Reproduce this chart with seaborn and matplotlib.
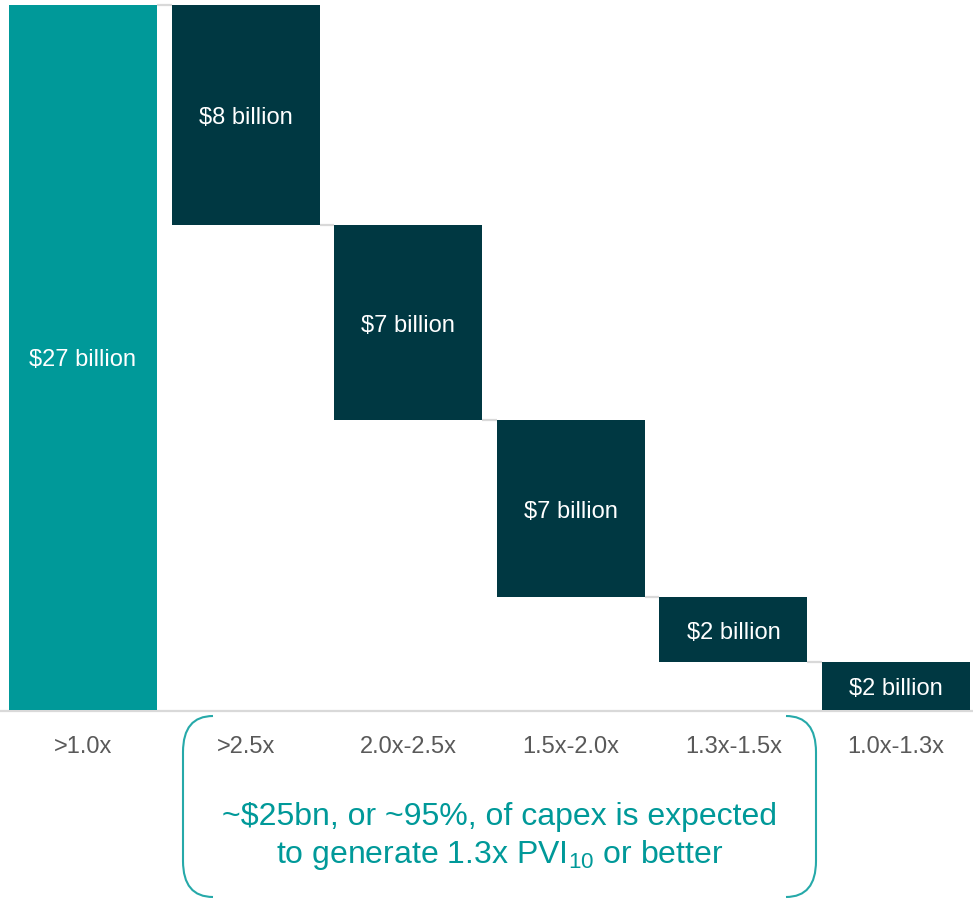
import matplotlib
matplotlib.use("Agg")
import matplotlib.pyplot as plt
from matplotlib.path import Path
from matplotlib.patches import PathPatch
from matplotlib.transforms import offset_copy
import seaborn as sns
import pandas as pd

# PVI10 buckets and the capex (in $ billion) falling into each one
categories = [">1.0x", ">2.5x", "2.0x-2.5x", "1.5x-2.0x", "1.3x-1.5x", "1.0x-1.3x"]
capex_total = 27.0
capex_steps = [8.43, 7.49, 6.77, 2.49, 1.82]
note_lines = ["~$25bn, or ~95%, of capex is expected",
              r"to generate 1.3x PVI$_\mathregular{10}$ or better"]

TEAL = "#009999"
DARK = "#003842"
GREY_LINE = "#d9d9d9"
TICK_GREY = "#595959"
BRACKET = "#26a9a9"

values = [capex_total] + capex_steps
bottoms = [0.0]
running = capex_total
for v in capex_steps:
    running -= v
    bottoms.append(running)

df = pd.DataFrame({"bucket": categories, "capex": values, "bottom": bottoms})

sns.set_theme(style="white")
plt.rcParams["font.family"] = ["Liberation Sans", "DejaVu Sans"]
plt.rcParams["mathtext.fontset"] = "custom"
plt.rcParams["mathtext.rm"] = "Liberation Sans"

W, H = 973, 900
fig = plt.figure(figsize=(W / 100, H / 100), dpi=100)
base_px, top_px = 709.5, 5.0
ax = fig.add_axes([0, (H - base_px) / H, 1, (base_px - top_px) / H])

palette = {c: (TEAL if i == 0 else DARK) for i, c in enumerate(categories)}
sns.barplot(data=df, x="bucket", y="capex", hue="bucket", palette=palette,
            order=categories, hue_order=categories, legend=False,
            width=0.91, saturation=1, linewidth=0, ax=ax, zorder=3)

# float each step bar so it starts where the previous one ends
bottom_of = dict(zip(categories, bottoms))
for container, cat in zip(ax.containers, categories):
    for patch in container:
        patch.set_y(bottom_of[cat])

step = 162.6
ax.set_xlim(-83 / step, 5 + (W - 896) / step)
ax.set_ylim(0, capex_total)

# value labels in the middle of each bar
label_tr = offset_copy(ax.transData, fig=fig, x=0, y=-3, units="dots")
for i, (v, b) in enumerate(zip(values, bottoms)):
    ax.text(i, b + v / 2, f"${v:.0f} billion", ha="center", va="center",
            color="white", fontsize=17, zorder=5, transform=label_tr)

# connectors between consecutive bars
half = 0.91 / 2
for i in range(len(values) - 1):
    y = bottoms[i] if i > 0 else capex_total
    ax.plot([i + half, i + 1 - half], [y, y], color=GREY_LINE, lw=1.6,
            solid_capstyle="butt", zorder=2, clip_on=False)

for s in ["top", "right", "left"]:
    ax.spines[s].set_visible(False)
ax.spines["bottom"].set_color(GREY_LINE)
ax.spines["bottom"].set_linewidth(1.6)
ax.spines["bottom"].set_position(("outward", 1))
ax.set_xlabel("")
ax.set_ylabel("")
ax.set_yticks([])
ax.tick_params(axis="x", length=0, pad=18, labelsize=17, labelcolor=TICK_GREY)

# overlay in pixel coordinates for the bracket and the note
ov = fig.add_axes([0, 0, 1, 1])
ov.set_xlim(0, W)
ov.set_ylim(H, 0)
ov.axis("off")

def bracket(x_edge, x_tip, y0, y1, r):
    verts = [(x_tip, y0), (x_edge, y0), (x_edge, y0 + r),
             (x_edge, y1 - r), (x_edge, y1), (x_tip, y1)]
    codes = [Path.MOVETO, Path.CURVE3, Path.CURVE3,
             Path.LINETO, Path.CURVE3, Path.CURVE3]
    return PathPatch(Path(verts, codes), fill=False, edgecolor=BRACKET, lw=1.5)

ov.add_patch(bracket(183, 213, 716, 897, 36))
ov.add_patch(bracket(816, 786, 716, 897, 36))

ov.text(500, 825, note_lines[0], ha="center", va="baseline", color=TEAL, fontsize=23)
ov.text(500, 863, note_lines[1], ha="center", va="baseline", color=TEAL, fontsize=23)

fig.savefig("out.png", dpi=100)
